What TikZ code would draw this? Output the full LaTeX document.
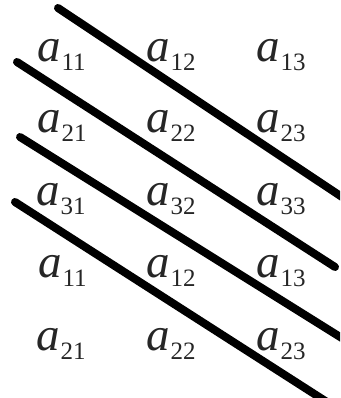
\documentclass[tikz,border=0pt]{standalone}
\usepackage{fontspec}
\setmainfont{Liberation Serif}
\tikzset{
  entry/.style={anchor=base west, inner sep=0pt, outer sep=0pt, text=black!85},
  diag/.style={line width=8pt, line cap=round, black}
}
\newcommand{\ent}[1]{{\fontsize{47}{47}\selectfont\itshape a}\kern1pt\raisebox{-9pt}{\fontsize{25}{25}\selectfont #1}}
\begin{document}
\begin{tikzpicture}[x=1pt,y=-1pt]
\useasboundingbox (0,0) rectangle (340,398);
\fill[white] (0,0) rectangle (340,398);
\clip (0,0) rectangle (340,398);
% entries
\node[entry] (r1c1) at (37,62) {\ent{11}};
\node[entry] (r1c2) at (146,62) {\ent{12}};
\node[entry] (r1c3) at (256,62) {\ent{13}};
\node[entry] (r2c1) at (37,133) {\ent{21}};
\node[entry] (r2c2) at (146,133) {\ent{22}};
\node[entry] (r2c3) at (256,133) {\ent{23}};
\node[entry] (r3c1) at (36,205) {\ent{31}};
\node[entry] (r3c2) at (146,205) {\ent{32}};
\node[entry] (r3c3) at (256,205) {\ent{33}};
\node[entry] (r4c1) at (38,277) {\ent{11}};
\node[entry] (r4c2) at (146,277) {\ent{12}};
\node[entry] (r4c3) at (256,277) {\ent{13}};
\node[entry] (r5c1) at (36,350) {\ent{21}};
\node[entry] (r5c2) at (146,350) {\ent{22}};
\node[entry] (r5c3) at (256,350) {\ent{23}};
% diagonals
\draw[diag] (58,8) -- (345,199);
\draw[diag] (17,62) -- (335,267);
\draw[diag] (20,137) -- (345,340);
\draw[diag] (15,202) -- (330,404);
\end{tikzpicture}
\end{document}
